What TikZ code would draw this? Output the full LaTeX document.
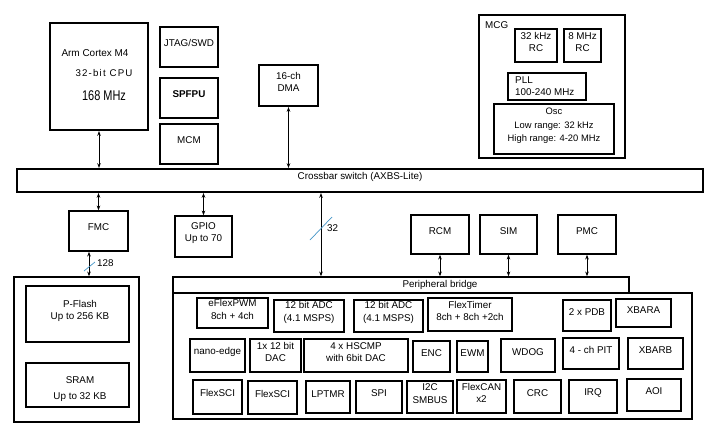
\documentclass[tikz,border=0pt]{standalone}
\usepackage{fontspec}
\usepackage{graphicx}
\setmainfont{Liberation Sans}
\usetikzlibrary{fit,arrows.meta}
\begin{document}
\begin{tikzpicture}[x=0.03cm,y=-0.03cm,
  box/.style={draw, line width=1.3pt, inner sep=0pt, align=center, font=\fontsize{8.4}{10.5}\selectfont},
  tbox/.style={box, line width=1.8pt},
  lbl/.style={inner sep=0pt, align=center, font=\fontsize{8.4}{10.5}\selectfont},
  arr/.style={{Stealth[length=4pt,width=3pt]}-{Stealth[length=4pt,width=3pt]}, line width=0.6pt},
  bus/.style={draw={rgb,255:red,70;green,150;blue,200}, line width=0.6pt}]
\useasboundingbox (0,0) rectangle (717,436);

% CPU
\node[tbox, fit={(50,23) (148,130)}] (cpu) {};
\node[lbl, font=\fontsize{8.5}{10}\selectfont] (cpuA) at (95,53) {Arm Cortex M4};
\node[lbl, font=\fontsize{8.3}{10}\selectfont\addfontfeature{LetterSpace=12}] (cpuB) at (104,73) {32-bit CPU};
\node[lbl] (cpuC) at (104,96) {\scalebox{0.78}[1]{\fontsize{12}{12}\selectfont 168 MHz}};

\node[box, fit={(160,27) (218,67)}] (jtag) {JTAG/SWD};
\node[tbox, font=\fontsize{8.4}{10}\selectfont\bfseries, fit={(160,78) (218,118)}] (spfpu) {SPFPU};
\node[box, fit={(160,124) (218,164)}] (mcm) {MCM};

\node[tbox, fit={(259,65) (318,106)}] (dma) {16-ch\\DMA};

% MCG
\node[box, fit={(479,15) (625,158)}] (mcg) {};
\node[lbl, anchor=west] (mcgl) at (485,25) {MCG};
\node[box, fit={(515,29) (557,62)}] (rc32) {32 kHz\\RC};
\node[box, fit={(564,29) (601,62)}] (rc8) {8 MHz\\RC};
\node[box, fit={(508,73) (586,100)}] (pll) {};
\node[lbl, anchor=west, align=left] (pllt) at (515,86.5) {PLL\\100-240 MHz};
\node[box, font=\fontsize{8}{11.5}\selectfont, fit={(494,104) (614,154)}] (osc) {Osc\\Low range: 32 kHz\\High range: 4-20 MHz};

% Crossbar
\node[tbox, fit={(17,169) (703,192)}] (xbar) {Crossbar switch (AXBS-Lite)};

\node[box, fit={(69,211) (128,251)}] (fmc) {FMC};
\node[box, fit={(175,216) (232,257)}] (gpio) {GPIO\\Up to 70};
\node[box, fit={(411,215) (469,254)}] (rcm) {RCM};
\node[box, fit={(480,215) (537,254)}] (sim) {SIM};
\node[box, fit={(558,215) (616,254)}] (pmc) {PMC};

% Memory
\node[box, fit={(14,277) (139,422)}] (mem) {};
\node[box, fit={(26,286) (129,342)}] (flash) {};
\node[lbl] (flasht) at (80,311) {P-Flash\\Up to 256 KB};
\node[box, fit={(26,363) (129,407)}] (sram) {};
\node[lbl, font=\fontsize{8.4}{13.5}\selectfont] (sramt) at (80,389) {SRAM\\Up to 32 KB};

% Peripherals
\node[box, fit={(173,277) (629,293)}] (bridge) {};
\node[lbl] (bridget) at (440,285) {Peripheral bridge};
\node[box, fit={(173,293) (692,419)}] (per) {};

\node[box, fit={(197,298) (268,328)}] (pwm) {eFlexPWM\\8ch + 4ch};
\node[box, fit={(274,300) (344,332)}] (adc1) {12 bit ADC\\(4.1 MSPS)};
\node[box, fit={(354,300) (423,332)}] (adc2) {12 bit ADC\\(4.1 MSPS)};
\node[box, fit={(428,298) (512,331)}] (ftm) {FlexTimer\\8ch + 8ch +2ch};
\node[box, fit={(563,300) (611,331)}] (pdb) {2 x PDB};
\node[box, fit={(616,299) (671,327)}] (xbara) {XBARA};

\node[box, fit={(190,339) (245,372)}] (nano) {nano-edge};
\node[box, fit={(250,339) (301,372)}] (dac) {1x 12 bit\\DAC};
\node[box, fit={(304,339) (408,372)}] (cmp) {4 x HSCMP\\with 6bit DAC};
\node[box, fit={(413,341) (450,372)}] (enc) {ENC};
\node[box, fit={(457,341) (488,372)}] (ewm) {EWM};
\node[box, fit={(501,339) (555,372)}] (wdog) {WDOG};
\node[box, fit={(563,338) (619,369)}] (pit) {4 - ch PIT};
\node[box, fit={(628,338) (683,369)}] (xbarb) {XBARB};

\node[box, fit={(193,380) (242,414)}] (sci1) {FlexSCI};
\node[box, fit={(248,381) (297,414)}] (sci2) {FlexSCI};
\node[box, fit={(306,381) (350,413)}] (lptmr) {LPTMR};
\node[box, fit={(356,381) (402,413)}] (spi) {SPI};
\node[box, fit={(407,381) (453,413)}] (i2c) {I2C\\SMBUS};
\node[box, fit={(457,380) (506,413)}] (can) {FlexCAN\\x2};
\node[box, fit={(514,380) (561,413)}] (crc) {CRC};
\node[box, fit={(569,380) (617,413)}] (irq) {IRQ};
\node[box, fit={(627,379) (681,411)}] (aoi) {AOI};

% Connectors
\draw[arr] (cpu.south) -- (cpu.south |- xbar.north);
\draw[arr] (dma.south) -- (dma.south |- xbar.north);
\draw[arr] (fmc.north |- xbar.south) -- (fmc.north);
\draw[arr] (gpio.north |- xbar.south) -- (gpio.north);
\coordinate (c32) at (321,230);
\draw[arr] (c32 |- xbar.south) -- (c32 |- bridge.north);
\coordinate (c128) at (89,264);
\draw[arr] (c128 |- fmc.south) -- (c128 |- mem.north);
\draw[arr] (rcm.south) -- (rcm.south |- bridge.north);
\draw[arr] (sim.south) -- (sim.south |- bridge.north);
\draw[arr] (pmc.south) -- (pmc.south |- bridge.north);

% bus widths
\draw[bus] (310,240) -- (332,217);
\node[lbl, anchor=west] (w32) at (327,228) {32};
\draw[bus] (84,271) -- (95,262);
\node[lbl, anchor=west] (w128) at (97,263) {128};
\end{tikzpicture}
\end{document}
